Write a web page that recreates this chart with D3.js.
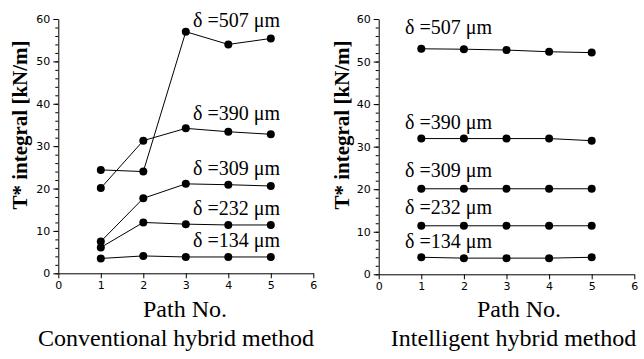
<!DOCTYPE html>
<html><head><meta charset="utf-8">
<script src="https://cdn.jsdelivr.net/npm/d3@7/dist/d3.min.js"></script>
<style>
body{margin:0;background:#fff;}
svg{display:block;}
</style>
</head><body>
<svg id="c" width="644" height="359"></svg>
<script>
const paths = [1, 2, 3, 4, 5];
const seriesLabels = ["δ =507 μm", "δ =390 μm", "δ =309 μm", "δ =232 μm", "δ =134 μm"];
const conventional507 = [24.4, 24.0, 57.0, 54.0, 55.4];
const conventional390 = [20.1, 31.3, 34.2, 33.4, 32.8];
const conventional309 = [7.5, 17.7, 21.1, 20.9, 20.6];
const conventional232 = [6.1, 12.0, 11.6, 11.4, 11.4];
const conventional134 = [3.5, 4.1, 3.85, 3.85, 3.85];
const intelligent507 = [53.0, 52.9, 52.7, 52.3, 52.1];
const intelligent390 = [31.9, 31.9, 31.9, 31.9, 31.4];
const intelligent309 = [20.1, 20.1, 20.1, 20.1, 20.1];
const intelligent232 = [11.4, 11.4, 11.4, 11.4, 11.4];
const intelligent134 = [4.0, 3.8, 3.8, 3.8, 4.0];
const xTicks = [0, 1, 2, 3, 4, 5, 6];
const yTicks = [0, 10, 20, 30, 40, 50, 60];
const yTitle = "T* integral [kN/m]";
const xTitle = "Path No.";
const panelTitles = ["Conventional hybrid method", "Intelligent hybrid method"];

const SERIF = '"Liberation Serif"';
const SANS = '"DejaVu Sans"';
const svg = d3.select("#c");

function panel(cfg){
  const x = d3.scaleLinear().domain([0,6]).range([cfg.x0, cfg.x1]);
  const y = d3.scaleLinear().domain([0,60]).range([cfg.y0, cfg.y1]);
  const g = svg.append("g");
  const yMinor = g.append("g").attr("transform",`translate(${cfg.x0},0)`)
    .call(d3.axisLeft(y).tickValues(d3.range(0,61,2)).tickSize(3).tickFormat(""));
  yMinor.select(".domain").remove();
  yMinor.selectAll("line").attr("stroke","#000");
  const ya = g.append("g").attr("transform",`translate(${cfg.x0},0)`)
    .call(d3.axisLeft(y).tickValues(yTicks).tickFormat(d3.format("d")).tickSize(5).tickPadding(3).tickSizeOuter(0));
  const xa = g.append("g").attr("transform",`translate(0,${cfg.y0})`)
    .call(d3.axisBottom(x).tickValues(xTicks).tickFormat(d3.format("d")).tickSize(5).tickPadding(3).tickSizeOuter(0));
  [ya, xa].forEach(a=>{
    a.attr("font-family",null).attr("font-size",null);
    a.select(".domain").attr("stroke","#000");
    a.selectAll(".tick line").attr("stroke","#000");
    a.selectAll(".tick text").style("font-family",SANS).style("font-size","11px").attr("fill","#000");
  });
  const line = d3.line().x((d,i)=>x(paths[i])).y(d=>y(d));
  cfg.series.forEach((s,k)=>{
    g.append("path").attr("d",line(s)).attr("fill","none").attr("stroke","#000").attr("stroke-width",1);
    g.selectAll(null).data(s).enter().append("circle")
      .attr("cx",(d,i)=>x(paths[i])).attr("cy",d=>y(d)).attr("r",4).attr("fill","#000");
  });
  cfg.series.forEach((s,k)=>{
    svg.append("text").attr("x",x(cfg.labelX)).attr("y",y(cfg.labelY[k]))
      .style("font-family",SERIF).style("font-size","20px").text(seriesLabels[k]);
  });
  svg.append("text").attr("transform",`translate(${cfg.ytx},125) rotate(-90)`)
    .attr("text-anchor","middle")
    .style("font-family",SERIF).style("font-weight","bold").style("font-size","21px").text(yTitle);
  svg.append("text").attr("x",cfg.xtx).attr("y",317).attr("text-anchor","middle")
    .style("font-family",SERIF).style("font-size","24px").text(xTitle);
  svg.append("text").attr("x",cfg.ptx).attr("y",346).attr("text-anchor","middle")
    .style("font-family",SERIF).style("font-size","24px").text(cfg.title);
}

panel({x0:58.3,x1:313.3,y0:273.3,y1:19,
  series:[conventional507,conventional390,conventional309,conventional232,conventional134],
  labelX:3.17, labelY:[58.0,36.1,23.2,13.8,6.1],
  ytx:27, xtx:185, ptx:176, title:panelTitles[0]});
panel({x0:378.7,x1:634.3,y0:274.3,y1:19,
  series:[intelligent507,intelligent390,intelligent309,intelligent232,intelligent134],
  labelX:0.62, labelY:[56.4,34.1,22.9,14.1,6.1],
  ytx:348.5, xtx:519, ptx:513.5, title:panelTitles[1]});
</script>
</body></html>
